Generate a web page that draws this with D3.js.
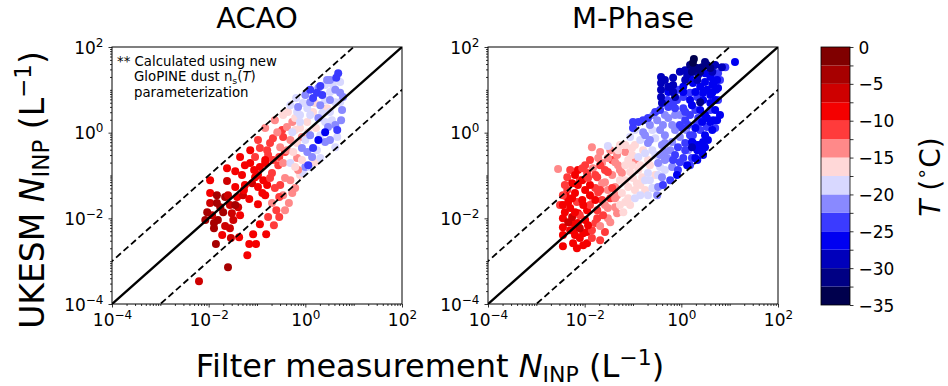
<!DOCTYPE html>
<html>
<head>
<meta charset="utf-8">
<script src="https://cdn.jsdelivr.net/npm/d3@7"></script>
<style>
  body { margin: 0; background: #fff; }
  svg { display: block; }
  text { font-family: "DejaVu Sans", sans-serif; fill: #000; }
</style>
</head>
<body>
<svg id="chart" width="948" height="386"></svg>
<script>
// ---- data: [log10 filter N_INP, log10 UKESM N_INP, temperature °C] ----
const acaoPoints = [
  [-2.20,-3.47,-6],[-1.60,-3.14,-4],[-1.20,-2.86,-9],[-1.85,-2.60,-4],[-1.54,-2.46,-6],
  [-1.37,-2.44,-9],[-1.16,-2.60,-9],[-1.02,-2.60,-9],[-1.08,-2.37,-9],[-0.81,-2.37,-9],
  [-0.94,-2.14,-9],[-0.65,-2.16,-11],[-0.77,-1.97,-11],[-0.54,-1.97,-11],[-1.66,-2.18,-6],
  [-1.89,-2.23,-4],[-1.89,-2.11,-4],[-1.81,-2.04,-4],[-1.93,-1.93,-6],[-1.70,-1.86,-4],
  [-1.52,-1.88,-6],[-1.97,-1.64,-6],[-1.83,-1.64,-4],[-1.76,-1.74,-4],[-1.56,-1.69,-6],
  [-1.39,-1.74,-6],[-1.97,-1.41,-9],[-1.83,-1.46,-4],[-1.66,-1.50,-4],[-1.41,-1.50,-9],
  [-1.29,-1.46,-6],[-1.16,-1.55,-9],[-0.98,-1.67,-9],[-0.83,-1.46,-9],[-1.62,-1.13,-6],
  [-1.97,-1.11,-9],[-1.45,-1.27,-9],[-1.31,-0.99,-9],[-1.25,-1.22,-9],[-1.10,-1.18,-6],
  [-1.04,-1.04,-9],[-0.98,-1.27,-9],[-0.87,-1.11,-9],[-0.79,-1.22,-9],[-1.62,-0.83,-9],
  [-1.45,-0.90,-9],[-1.14,-0.71,-9],[-1.06,-0.87,-9],[-0.94,-0.80,-9],[-0.83,-0.71,-9],
  [-0.69,-0.94,-11],[-0.69,-1.64,-14],[-0.42,-1.81,-14],[-0.34,-1.64,-14],[-0.27,-1.41,-14],
  [-0.21,-1.29,-14],[-0.46,-1.46,-14],[-0.52,-1.22,-11],[-0.31,-1.11,-14],[-0.11,-0.99,-16],
  [-0.05,-0.94,-19],[0.00,-0.80,-21],[0.10,-0.80,-19],[-0.15,-0.87,-14],[-1.56,-2.23,-6],
  [-1.72,-2.39,-9],[-1.27,-1.34,-9],[-2.03,-1.86,-4],[-2.07,-2.04,-4],[-1.49,-2.04,-6],
  [-0.60,-1.81,-11],[-0.54,-1.50,-11],[-1.45,-1.69,-4],[-1.60,-1.46,-6],[-1.35,-1.93,-9],
  [-1.25,-0.76,-9],[-0.98,-0.99,-9],[-0.73,-1.06,-11],[-0.89,-1.41,-9],[-0.63,-1.29,-11],
  [-0.42,-1.06,-14],[-0.56,-0.76,-11],[-0.42,-0.45,-11],[-0.77,-0.52,-11],[-1.14,-0.41,-9],
  [-0.98,-0.17,-11],[-0.83,0.11,-14],[-0.63,0.29,-14],[-0.17,-0.59,-14],[-0.31,-0.17,-14],
  [-0.54,-0.57,-11],[-1.35,-0.57,-9],[-1.04,-0.57,-11],[-0.83,-0.64,-9],[-0.67,-0.64,-11],
  [-0.94,-0.36,-11],[-0.79,-0.41,-11],[-0.73,-0.24,-11],[-0.67,-0.13,-11],[-0.46,-0.10,-11],
  [-0.52,-0.34,-14],[-0.46,-0.71,-14],[-0.38,-0.41,-14],[-0.48,0.06,-11],[-0.58,0.01,-14],
  [-0.38,0.13,-14],[-0.27,0.25,-14],[-0.07,-0.10,-14],[-0.31,-0.71,-19],[-0.21,-0.80,-16],
  [-0.07,-0.64,-16],[0.20,-0.69,-16],[-0.25,-0.45,-16],[-0.17,-0.24,-16],[-0.11,0.11,-16],
  [0.06,0.01,-16],[0.22,0.11,-16],[-0.36,0.48,-16],[-0.21,0.34,-16],[0.04,0.25,-16],
  [0.16,0.48,-16],[0.20,0.69,-16],[0.45,0.57,-16],[-0.21,0.06,-16],[-0.46,0.41,-16],
  [-0.27,0.01,-19],[-0.11,0.25,-19],[-0.31,0.64,-19],[-0.19,0.81,-19],[0.00,-0.17,-19],
  [-0.17,0.48,-19],[-0.05,0.69,-19],[0.04,0.57,-19],[0.10,0.41,-19],[0.35,0.46,-19],
  [0.41,0.76,-19],[0.62,0.71,-19],[0.72,0.71,-19],[0.51,0.95,-19],[0.57,1.11,-19],
  [0.41,0.25,-19],[0.51,0.48,-19],[0.31,-0.06,-19],[0.66,-0.10,-19],[0.62,-0.34,-19],
  [-0.11,0.41,-19],[0.41,1.11,-19],[0.72,1.18,-19],[0.55,0.29,-19],[0.24,-0.41,-19],
  [0.31,-0.59,-19],
  [-0.15,0.60,-21],[0.10,0.71,-21],[0.31,0.64,-21],[0.51,0.76,-21],[0.62,1.00,-21],
  [0.72,0.93,-21],[0.78,0.83,-21],[0.45,1.23,-21],[0.27,0.34,-21],[0.74,0.29,-21],
  [0.47,0.13,-21],[0.51,-0.17,-21],[-0.07,-0.36,-21],[0.04,-0.45,-21],[0.14,-0.57,-21],
  [0.10,-0.06,-21],[0.00,0.88,-21],[0.27,1.04,-21],[0.51,1.23,-21],[0.76,0.53,-21],
  [0.62,0.18,-21],[0.41,-0.22,-21],
  [0.68,1.39,-24],[0.31,1.09,-24],[0.24,0.93,-24],[0.35,0.88,-24],[0.16,0.81,-24],
  [0.66,0.06,-24],[0.16,-0.36,-24],[0.06,-0.76,-24],[0.10,1.00,-24],[0.64,1.28,-24],
  [0.41,0.01,-26],[0.27,-0.17,-26]
];

const mphasePoints = [
  [-2.45,-2.65,-9],[-2.16,-2.70,-9],[-2.03,-2.63,-9],[-1.95,-2.58,-9],[-2.20,-2.39,-9],
  [-2.03,-2.35,-9],[-1.95,-2.32,-9],[-1.68,-2.51,-11],[-1.58,-2.32,-11],[-1.52,-2.00,-14],
  [-2.45,-2.39,-9],[-2.45,-2.21,-9],[-2.45,-2.00,-9],[-2.26,-2.09,-9],[-2.14,-2.11,-9],
  [-1.78,-2.11,-11],[-2.41,-1.86,-9],[-2.26,-1.97,-6],[-2.14,-1.88,-9],[-1.95,-1.81,-9],
  [-1.99,-2.04,-9],[-2.36,-1.04,-11],[-2.26,-1.18,-9],[-2.36,-1.34,-11],[-2.20,-1.41,-9],
  [-2.34,-1.62,-9],[-2.16,-1.62,-11],[-1.99,-0.76,-11],[-1.83,-0.83,-14],[-1.95,-0.94,-11],
  [-1.74,-1.04,-11],[-1.64,-0.71,-14],[-1.43,-0.64,-11],[-1.31,-0.76,-14],[-1.23,-0.94,-14],
  [-1.64,-1.18,-14],[-1.78,-1.29,-11],[-1.83,-1.53,-14],[-1.64,-1.57,-11],[-1.52,-1.34,-14],
  [-1.37,-1.27,-14],[-1.27,-1.11,-16],[-2.55,-0.85,-14],[-1.85,-0.34,-14],[-2.10,-1.11,-11],
  [-1.89,-1.22,-9],[-1.72,-1.39,-11],[-2.05,-1.57,-9],[-1.89,-1.69,-11],[-1.74,-1.81,-11],
  [-1.58,-1.69,-14],[-1.47,-1.53,-11],[-1.43,-0.99,-14],[-1.58,-0.87,-11],[-1.72,-0.59,-14],
  [-1.89,-0.64,-11],[-2.14,-0.87,-9],[-2.26,-1.53,-9],[-2.10,-1.93,-11],[-2.30,-1.76,-9],
  [-2.39,-1.48,-9],[-2.51,-1.69,-11],[-2.20,-2.23,-9],[-1.85,-2.28,-11],[-1.68,-2.18,-14],
  [-1.47,-2.09,-14],[-1.33,-1.46,-14],[-1.33,-1.88,-14],[-1.37,-1.74,-14],[-1.47,-0.41,-14],
  [-1.68,-0.45,-14],[-1.33,-0.52,-14],[-1.16,-0.45,-14],
  [-2.30,-2.28,-9],[-2.10,-2.46,-9],[-1.85,-2.46,-11],[-2.34,-2.09,-6],[-2.20,-1.86,-9],
  [-2.03,-1.69,-9],[-1.89,-1.46,-9],[-1.99,-1.34,-9],[-2.14,-1.22,-9],[-2.30,-0.87,-11],
  [-2.20,-0.99,-9],[-2.05,-1.11,-9],[-2.45,-1.69,-9],[-2.45,-1.46,-11],[-2.41,-1.22,-11],
  [-1.74,-2.00,-11],[-1.62,-1.93,-11],[-1.93,-2.16,-9],[-2.10,-2.23,-6],[-2.24,-2.58,-9],
  [-1.78,-1.57,-9],[-1.68,-1.34,-11],[-1.93,-1.06,-11],[-1.78,-0.99,-11],[-2.05,-0.83,-11],
  [-1.68,-0.76,-11],[-1.52,-0.92,-11],[-1.58,-1.16,-14],[-1.43,-1.29,-11],[-1.37,-1.53,-14],
  [-1.52,-1.76,-14],[-1.27,-0.87,-14],[-1.37,-0.69,-14],[-1.52,-0.59,-14],[-0.96,-0.64,-14],
  [-1.02,-0.52,-16],[-0.96,-0.29,-16],[-1.23,-1.41,-16],[-1.10,-1.27,-16],[-0.92,-1.18,-16],
  [-0.81,-1.04,-16],[-1.20,-1.86,-16],[-1.16,-1.62,-16],[-0.75,-1.34,-16],[-1.10,-1.53,-16],
  [-0.96,-1.34,-16],[-1.06,-0.92,-16],[-1.16,-0.76,-16],[-0.85,-0.76,-16],[-0.69,-0.64,-16],
  [-0.54,-0.99,-16],[-1.02,-0.76,-16],[-1.27,-0.29,-16],[-1.27,-1.69,-16],[-1.16,-1.11,-16],
  [-1.00,-1.06,-16],[-1.10,-0.64,-16],[-0.89,-0.87,-16],[-0.65,-0.76,-16],[-0.79,-0.41,-16],
  [-1.16,-0.29,-16],[-1.02,-0.36,-16],[-1.31,-0.41,-16],[-1.06,-1.69,-16],[-0.85,-1.22,-16],
  [-1.52,-0.31,-19],[-0.89,-0.57,-19],[-0.75,-0.48,-19],[-0.60,-0.41,-19],[-0.69,-0.94,-19],
  [-0.85,-1.46,-19],[-0.60,-1.29,-19],[-0.34,-0.87,-19],[-0.58,-1.29,-19],[-0.75,-1.11,-19],
  [-0.44,-0.80,-19],[-0.54,-0.52,-19],[-0.85,-0.17,-19],[-1.06,-0.10,-19],[-0.60,0.06,-19],
  [-0.96,0.06,-19],[-0.54,-0.13,-19],[-0.96,-1.53,-19],[-0.65,-1.11,-19],[-0.48,-0.99,-19],
  [-0.69,-1.46,-19],
  [-0.69,-0.24,-21],[-0.48,-1.27,-21],[-0.40,-1.04,-21],[-0.19,-0.80,-21],[-0.48,-0.71,-21],
  [-0.29,-0.59,-21],[-0.40,-0.29,-21],[-0.19,-0.22,-21],[-0.34,-0.45,-21],[-0.58,0.41,-21],
  [-0.50,0.29,-21],[-0.38,0.18,-21],[-0.79,0.01,-21],[-0.75,-0.06,-21],[-0.34,-0.06,-21],
  [-0.13,0.06,-21],[-0.13,0.41,-21],[-0.27,0.34,-21],[0.10,0.06,-21],[-0.03,-0.10,-21],
  [0.14,-0.41,-21],[-0.50,-1.46,-21],[-0.34,-0.64,-21],[-0.23,-0.41,-21],[-0.44,-0.52,-21],
  [-0.19,0.18,-21],[-0.44,0.06,-21],[-0.65,0.18,-21],[-0.34,0.41,-21],[-0.03,0.41,-21],
  [-0.34,-0.24,-21],[-0.65,-0.17,-21],
  [-0.17,-0.64,-24],[-0.07,-0.34,-24],[0.08,-0.24,-24],[-0.07,-0.87,-24],[-0.38,-1.22,-24],
  [-0.23,-1.11,-24],[-1.00,0.11,-24],[-0.89,0.25,-24],[-0.69,0.34,-24],[-0.44,0.53,-24],
  [-0.27,0.60,-24],[-0.17,0.69,-24],[-1.00,0.25,-24],[-0.03,0.18,-24],[0.08,0.29,-24],
  [0.18,0.41,-24],[0.04,0.57,-24],[0.29,0.53,-24],[0.53,0.13,-24],[0.70,0.11,-24],
  [0.39,0.06,-24],[0.24,-0.06,-24],[0.22,-0.59,-24],[0.04,-0.59,-24],[0.60,0.53,-24],
  [0.35,0.34,-24],[0.18,0.93,-24],[0.33,0.83,-24],[-0.07,1.00,-24],[0.04,0.83,-24],
  [0.70,1.39,-24],[0.91,1.53,-24],[0.76,1.39,-24],[-0.13,-0.52,-24],[-0.03,-0.69,-24],
  [0.08,-0.41,-24],[0.18,-0.06,-24],[0.02,0.11,-24],[-0.79,0.29,-24],[-0.54,0.48,-24],
  [-0.13,0.57,-24],[0.08,0.48,-24],[0.14,0.18,-24],[-0.29,0.76,-24],[-0.09,0.76,-24],
  [0.80,1.23,-24],[0.76,0.76,-24],[0.33,0.22,-24],[0.18,-0.76,-24],
  [0.22,-0.22,-26],[0.33,-0.29,-26],[0.12,-0.76,-26],[0.29,-0.59,-26],[0.43,-0.45,-26],
  [0.35,-0.41,-26],[0.49,-0.34,-26],[0.45,-0.22,-26],[-0.09,-0.99,-26],[0.18,0.76,-26],
  [0.43,0.25,-26],[0.66,0.29,-26],[0.24,-0.24,-26],[0.33,-0.41,-26],[0.49,-0.06,-26],
  [0.49,0.41,-26],[0.49,1.39,-26],[0.60,1.30,-26],[0.74,1.23,-26],[0.66,1.16,-26],
  [0.18,1.30,-26],[0.24,1.16,-26],[0.39,1.07,-26],[0.53,1.00,-26],[0.64,0.93,-26],
  [0.04,1.07,-26],[0.45,0.76,-26],[0.60,0.69,-26],[0.70,0.76,-26],[1.11,1.65,-26],
  [0.76,1.04,-26],[0.70,0.53,-26],[0.29,0.11,-26],[0.22,0.64,-26],[0.39,0.53,-26],
  [0.53,0.34,-26],[0.64,0.06,-26],[0.55,-0.17,-26],[0.39,-0.29,-26],[-0.27,0.95,-26],
  [0.04,0.95,-26],[0.29,0.95,-26],[0.45,0.93,-26],[0.60,0.88,-26],[0.72,1.00,-26],
  [0.49,1.18,-26],[0.64,1.11,-26],[0.80,0.41,-26],[0.74,0.29,-26],[0.60,0.25,-26],
  [0.33,-0.64,-26],[0.45,-0.52,-26],
  [0.22,-0.34,-29],[-0.42,1.30,-29],[-0.42,1.16,-29],[-0.42,1.00,-29],[-0.42,0.83,-29],
  [-0.40,0.69,-29],[-0.17,1.28,-29],[-0.17,1.11,-29],[-0.17,0.95,-29],[-0.13,0.83,-29],
  [-0.03,1.42,-29],[0.08,1.46,-29],[0.84,1.53,-29],[0.35,1.35,-29],[0.08,1.23,-29],
  [0.33,1.23,-29],[-0.34,1.23,-29],[-0.27,1.07,-29],[0.12,1.35,-29],[0.64,1.42,-29],
  [0.70,1.58,-29],
  [0.18,1.58,-31],[0.33,1.51,-31],[0.43,1.53,-31],[0.53,1.58,-31],[0.60,1.51,-31],
  [0.39,0.71,-31],[0.22,1.42,-31],[0.39,1.42,-31],[0.49,1.65,-31],[0.29,1.51,-31],
  [0.24,1.63,-34],[0.26,1.72,-34]
];

const panelTitles = ["ACAO", "M-Phase"];
const panelPoints = [acaoPoints, mphasePoints];
const axisDomain = [1e-4, 1e2];
const majorTickExponents = [-4, -2, 0, 2];
const ratioLines = [1, 10, 0.1];           // y = r * x reference lines
const tempRange = [-35, 0];
const tempStep = 2.5;
const cbarTickLabels = [0, -5, -10, -15, -20, -25, -30, -35];
const noteLines = ["** Calculated using new", "GloPINE dust", "parameterization"];

// ---- layout ----
const svg = d3.select("#chart");
const plotW = 290, plotH = 257, plotTop = 47;
const panelLeft = [112, 488];
const font = '"DejaVu Sans", sans-serif';
const minus = "\u2212";

// seismic colormap, discretised into 2.5 °C bins
const seismic = d3.scaleLinear()
  .domain([0, 0.25, 0.5, 0.75, 1])
  .range(["#00004d", "#0000ff", "#ffffff", "#ff0000", "#800000"])
  .interpolate(d3.interpolateRgb);
const bounds = d3.range(tempRange[0], tempRange[1] + 0.01, tempStep);
const nBins = bounds.length - 1;
const binColors = d3.range(nBins).map(i => seismic(i / (nBins - 1)));
const colour = d3.scaleThreshold().domain(bounds.slice(1, -1)).range(binColors);

const x = d3.scaleLog().domain(axisDomain).range([0, plotW]);
const y = d3.scaleLog().domain(axisDomain).range([plotH, 0]);

const majorTicks = majorTickExponents.map(e => Math.pow(10, e));
const minorTicks = [];
for (let e = -4; e < 2; e++) {
  for (let m = 1; m < 10; m++) {
    const v = m * Math.pow(10, e);
    if (!(m === 1 && majorTickExponents.includes(e))) minorTicks.push(v);
  }
}

function powerLabels(sel) {
  sel.each(function(d) {
    const t = d3.select(this);
    const e = Math.round(Math.log10(d));
    t.text(null);
    t.append("tspan").text("10");
    t.append("tspan").attr("dy", -7).attr("font-size", 12)
      .text(e < 0 ? minus + (-e) : String(e));
  });
}

panelPoints.forEach((pts, i) => {
  const g = svg.append("g").attr("transform", `translate(${panelLeft[i]},${plotTop})`);
  const clipId = "clip" + i;
  g.append("clipPath").attr("id", clipId)
    .append("rect").attr("width", plotW).attr("height", plotH);

  // scatter
  g.append("g").attr("clip-path", `url(#${clipId})`)
    .selectAll("circle").data(pts).join("circle")
    .attr("cx", d => x(Math.pow(10, d[0])))
    .attr("cy", d => y(Math.pow(10, d[1])))
    .attr("r", 4)
    .attr("fill", d => colour(d[2]));

  // 1:1 and factor-of-ten lines
  const lg = g.append("g").attr("clip-path", `url(#${clipId})`);
  ratioLines.forEach(r => {
    const xs = [axisDomain[0] / 10, axisDomain[1] * 10];
    lg.append("line")
      .attr("x1", x(xs[0])).attr("y1", y(xs[0] * r))
      .attr("x2", x(xs[1])).attr("y2", y(xs[1] * r))
      .attr("stroke", "#000")
      .attr("stroke-width", r === 1 ? 2.4 : 1.8)
      .attr("stroke-dasharray", r === 1 ? null : "6.5,3.5");
  });

  // axes
  const xMinor = g.append("g").attr("transform", `translate(0,${plotH})`)
    .call(d3.axisBottom(x).tickValues(minorTicks).tickSize(2).tickFormat(""));
  const xMajor = g.append("g").attr("transform", `translate(0,${plotH})`)
    .call(d3.axisBottom(x).tickValues(majorTicks).tickSize(3.5).tickPadding(6));
  const yMinor = g.append("g")
    .call(d3.axisLeft(y).tickValues(minorTicks).tickSize(2).tickFormat(""));
  const yMajor = g.append("g")
    .call(d3.axisLeft(y).tickValues(majorTicks).tickSize(3.5).tickPadding(5));
  [xMinor, xMajor, yMinor, yMajor].forEach(a => {
    a.select(".domain").remove();
    a.selectAll(".tick line").attr("stroke", "#000").attr("stroke-width", 0.8);
  });
  xMajor.selectAll(".tick text").attr("font-size", 17).attr("font-family", font)
    .attr("dy", "0.76em").call(powerLabels);
  yMajor.selectAll(".tick text").attr("font-size", 17).attr("font-family", font)
    .attr("dy", "0.36em").call(powerLabels);

  // frame
  g.append("rect").attr("width", plotW).attr("height", plotH)
    .attr("fill", "none").attr("stroke", "#000").attr("stroke-width", 1);

  // title
  g.append("text").attr("x", plotW / 2).attr("y", -19)
    .attr("text-anchor", "middle").attr("font-size", 29)
    .text(panelTitles[i]);
});

// annotation in the ACAO panel
const note = svg.append("text").attr("font-size", 13.3);
note.append("tspan").attr("x", 117).attr("y", 66).text(noteLines[0]);
const l2 = note.append("tspan").attr("x", 134).attr("y", 81).text(noteLines[1] + " n");
l2.append("tspan").attr("font-size", 9.5).attr("dy", 3).text("s");
l2.append("tspan").attr("dy", -3).text("(");
l2.append("tspan").attr("font-style", "italic").text("T");
l2.append("tspan").text(")");
note.append("tspan").attr("x", 134).attr("y", 97).text(noteLines[2]);

// shared axis labels
const xl = svg.append("text").attr("x", 430).attr("y", 377)
  .attr("text-anchor", "middle").attr("font-size", 32);
xl.append("tspan").text("Filter measurement ");
xl.append("tspan").attr("font-style", "italic").text("N");
xl.append("tspan").attr("font-size", 22).attr("dy", 5).text("INP");
xl.append("tspan").attr("dy", -5).text(" (L");
xl.append("tspan").attr("font-size", 22).attr("dy", -12).text(minus + "1");
xl.append("tspan").attr("dy", 12).text(")");

const yl = svg.append("text").attr("transform", "translate(44,190) rotate(-90)")
  .attr("text-anchor", "middle").attr("font-size", 33);
yl.append("tspan").text("UKESM ");
yl.append("tspan").attr("font-style", "italic").text("N");
yl.append("tspan").attr("font-size", 23).attr("dy", 5).text("INP");
yl.append("tspan").attr("dy", -5).text(" (L");
yl.append("tspan").attr("font-size", 23).attr("dy", -13).text(minus + "1");
yl.append("tspan").attr("dy", 13).text(")");

// colorbar
const cbX = 821, cbW = 29, cbTop = 47, cbBottom = 305;
const cy = d3.scaleLinear().domain(tempRange).range([cbBottom, cbTop]);
const cb = svg.append("g");
cb.selectAll("rect.bin").data(d3.range(nBins)).join("rect")
  .attr("class", "bin")
  .attr("x", cbX).attr("width", cbW)
  .attr("y", i => cy(bounds[i + 1]))
  .attr("height", i => cy(bounds[i]) - cy(bounds[i + 1]))
  .attr("fill", i => binColors[i]);
cb.append("rect").attr("x", cbX).attr("y", cbTop).attr("width", cbW)
  .attr("height", cbBottom - cbTop).attr("fill", "none")
  .attr("stroke", "#000").attr("stroke-width", 0.8);
const cbAxis = cb.append("g").attr("transform", `translate(${cbX + cbW},0)`)
  .call(d3.axisRight(cy).tickValues(bounds).tickSize(3.5).tickPadding(5)
    .tickFormat(v => cbarTickLabels.includes(v) ? (v < 0 ? minus + (-v) : String(v)) : ""));
cbAxis.select(".domain").remove();
cbAxis.selectAll(".tick line").attr("stroke", "#000").attr("stroke-width", 0.8);
cbAxis.selectAll(".tick text").attr("font-size", 17).attr("font-family", font).attr("dy", "0.36em");

const cl = svg.append("text").attr("transform", "translate(940,177) rotate(-90)")
  .attr("text-anchor", "middle").attr("font-size", 28);
cl.append("tspan").attr("font-style", "italic").text("T");
cl.append("tspan").text(" (");
cl.append("tspan").attr("font-size", 19).attr("dy", -12).text("\u2218");
cl.append("tspan").attr("dy", 12).text("C)");
</script>
</body>
</html>
